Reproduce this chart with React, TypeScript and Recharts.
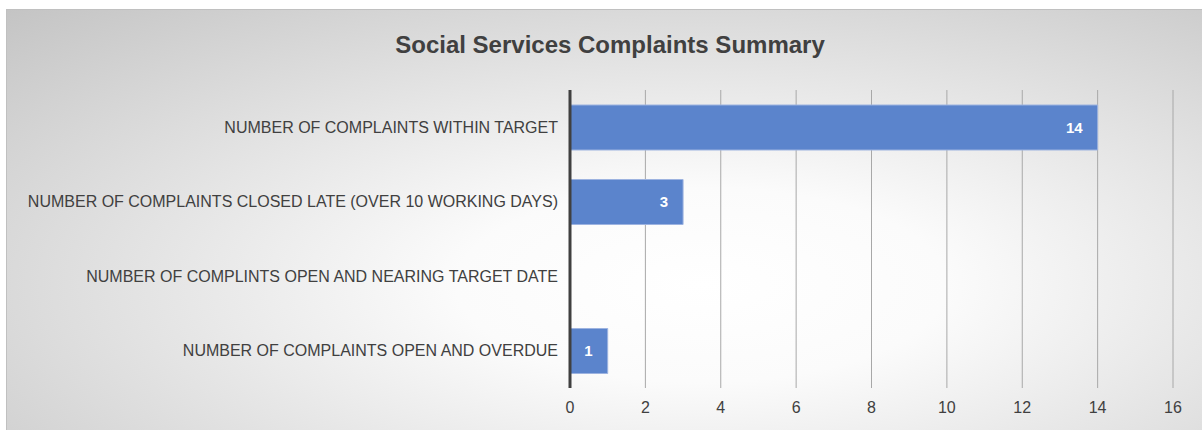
import { BarChart, Bar, XAxis, YAxis, CartesianGrid, LabelList } from "recharts"

const categories = [
  "NUMBER OF COMPLAINTS WITHIN TARGET",
  "NUMBER OF COMPLAINTS CLOSED LATE (OVER 10 WORKING DAYS)",
  "NUMBER OF COMPLINTS OPEN AND NEARING TARGET DATE",
  "NUMBER OF COMPLAINTS OPEN AND OVERDUE",
]
const counts = [14, 3, 0, 1]
const xTicks = [0, 2, 4, 6, 8, 10, 12, 14, 16]

const data = categories.map((name, i) => ({ name, value: counts[i] }))

const font = "'Liberation Sans', Arial, sans-serif"

export default function App() {
  return (
    <div style={{ position: "absolute", left: 0, top: 0, width: 1202, height: 430, background: "#fff", overflow: "hidden" }}>
      <div
        style={{
          position: "absolute",
          left: 6,
          top: 9,
          width: 1200,
          height: 425,
          border: "1px solid #c0c0c0",
          boxSizing: "border-box",
          background: "radial-gradient(ellipse farthest-corner at 58% 65%, #ffffff 0%, #fbfbfb 25%, #c4c4c4 100%)",
          fontFamily: font,
        }}
      >
        <div
          style={{
            position: "absolute",
            left: 0,
            top: 21,
            width: 1206,
            textAlign: "center",
            fontSize: 24,
            fontWeight: "bold",
            color: "#404040",
          }}
        >
          Social Services Complaints Summary
        </div>
        <BarChart
          width={1198}
          height={423}
          data={data}
          layout="vertical"
          margin={{ top: 80, right: 32, bottom: 15, left: 0 }}
          style={{ position: "absolute", left: 0, top: 0 }}
        >
          <CartesianGrid horizontal={false} stroke="#a8a8a8" />
          <XAxis
            type="number"
            domain={[0, 16]}
            ticks={xTicks}
            axisLine={false}
            tickLine={false}
            tickMargin={8}
            tick={{ fill: "#404040", fontSize: 16, fontFamily: font }}
          />
          <YAxis
            type="category"
            dataKey="name"
            width={563}
            tickLine={false}
            tickSize={0}
            tickMargin={12}
            axisLine={{ stroke: "#404040", strokeWidth: 3 }}
            tick={{ fill: "#404040", fontSize: 16, fontFamily: font }}
            interval={0}
          />
          <Bar dataKey="value" barSize={45} fill="#5b84cc" stroke="#9db3e0" strokeWidth={1} isAnimationActive={false}>
            <LabelList
              dataKey="value"
              position="insideRight"
              offset={15}
              formatter={(v: any) => (v === 0 ? "" : v)}
              style={{ fill: "#fff", fontSize: 15, fontWeight: "bold", fontFamily: font }}
            />
          </Bar>
        </BarChart>
      </div>
    </div>
  )
}
